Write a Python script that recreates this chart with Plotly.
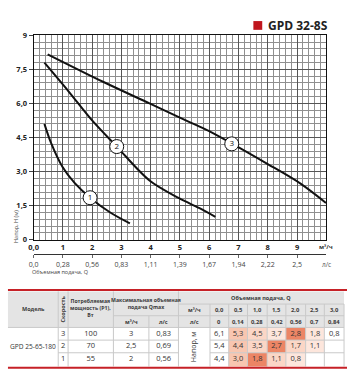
import numpy as np
import plotly.graph_objects as go

# ---- Pump curves (Q in m³/h, H in m) ----
q_speed1 = [0.37, 0.60, 0.99, 1.40, 1.93, 2.62, 3.29]
h_speed1 = [5.10, 4.25, 3.20, 2.50, 1.85, 1.20, 0.72]
q_speed2 = [0.37, 1.20, 2.00, 2.84, 3.96, 4.97, 5.65, 6.21]
h_speed2 = [7.79, 6.52, 5.25, 4.10, 2.61, 1.83, 1.40, 1.01]
q_speed3 = [0.48, 2.39, 3.96, 5.31, 5.98, 8.00, 9.12, 9.99]
h_speed3 = [8.16, 6.94, 6.00, 5.19, 4.79, 3.33, 2.47, 1.62]
curve_names = ["1", "2", "3"]
curve_label_q = [1.93, 2.84, 6.77]

x_ticks = [0, 1, 2, 3, 4, 5, 6, 7, 8, 9]
x_ticklabels_m3h = ["0,0", "1", "2", "3", "4", "5", "6", "7", "8", "9"]
x_ticklabels_ls = ["0,0", "0,28", "0,56", "0,83", "1,11", "1,39", "1,67", "1,94", "2,22", "2,5"]
y_ticks = [0, 1.5, 3.0, 4.5, 6.0, 7.5, 9]
y_ticklabels = ["0", "1,5", "3,0", "4,5", "6,0", "7,5", "9"]

# ---- Table ----
model_name = "GPD 25-65-180"
speeds = [3, 2, 1]
power_w = [100, 70, 55]
qmax_m3h = [3, 2.5, 2]
qmax_ls = [0.83, 0.69, 0.56]
flow_m3h = [0.0, 0.5, 1.0, 1.5, 2.0, 2.5, 3.0]
flow_ls = [0, 0.14, 0.28, 0.42, 0.56, 0.7, 0.84]
head_speed3 = [6.1, 5.3, 4.5, 3.7, 2.8, 1.8, 0.8]
head_speed2 = [5.4, 4.4, 3.5, 2.7, 1.7, 1.1, None]
head_speed1 = [4.4, 3.0, 1.8, 1.1, 0.8, None, None]

# cell shading levels (0 = none ... 4 = strongest)
shade_speed3 = [0, 3, 2, 1, 4, 1, 0]
shade_speed2 = [0, 3, 2, 4, 2, 1, 0]
shade_speed1 = [0, 3, 4, 2, 1, 0, 0]
shade_palette = ["#ffffff", "#fde6dc", "#fbd6c6", "#f8c6b0", "#ec8565"]

W, H = 347, 387
FONT = "Open Sans"


def fmt(v):
    return "" if v is None else str(v).replace(".", ",")


def pxx(x):
    return x / W


def pxy(y):
    return 1 - y / H


fig = go.Figure()

# curves
curves = [(q_speed1, h_speed1), (q_speed2, h_speed2), (q_speed3, h_speed3)]
for q, h in curves:
    fig.add_trace(go.Scatter(
        x=q, y=h, mode="lines",
        line=dict(color="#111111", width=2, shape="spline", smoothing=0.9),
        hoverinfo="skip", showlegend=False,
    ))

label_h = [float(np.interp(lq, q, h)) for lq, (q, h) in zip(curve_label_q, curves)]
fig.add_trace(go.Scatter(
    x=curve_label_q, y=label_h, mode="markers+text", text=curve_names,
    textposition="middle center",
    textfont=dict(family=FONT, size=8, color="#111111"),
    marker=dict(size=14, color="white", line=dict(color="#111111", width=1)),
    hoverinfo="skip", showlegend=False,
))

# carrier for the l/s axis
fig.add_trace(go.Scatter(x=[0, 10], y=[None, None], xaxis="x2", yaxis="y",
                         mode="lines", hoverinfo="skip", showlegend=False))

# ---- table geometry (table axis units = pixels) ----
X0, X1 = 3, 344
col_model = (X0, 54)
col_speed = (54, 64)
col_power = (64, 110)
col_qm = (110, 146)
col_ql = (146, 176)
col_head = (176, 208)
flow_edges = [208, 227, 246, 266, 285, 305, 324, 344]
HDR_TOP, HDR_A, HDR_B, HDR_BOT = 294, 307, 319, 331
row_edges = [331, 344, 357, 371]

shapes = []
GRID = "#c9c9c9"


def rect(x0, x1, y0, y1, fill, line=GRID, width=1):
    shapes.append(dict(type="rect", xref="x3", yref="y3", x0=x0, x1=x1, y0=y0, y1=y1,
                       fillcolor=fill, line=dict(color=line, width=width), layer="below"))


def hline(x0, x1, y, color=GRID, width=1):
    shapes.append(dict(type="line", xref="x3", yref="y3", x0=x0, x1=x1, y0=y, y1=y,
                       line=dict(color=color, width=width)))


def vline(x, y0, y1, color=GRID, width=1):
    shapes.append(dict(type="line", xref="x3", yref="y3", x0=x, x1=x, y0=y0, y1=y1,
                       line=dict(color=color, width=width)))


# header background
rect(X0, X1, HDR_TOP, HDR_BOT, "#e4e4e4", line="rgba(0,0,0,0)", width=0)
# shaded head cells
for r, shades in enumerate([shade_speed3, shade_speed2, shade_speed1]):
    for c, s in enumerate(shades):
        if s:
            rect(flow_edges[c], flow_edges[c + 1], row_edges[r], row_edges[r + 1],
                 shade_palette[s], line="rgba(0,0,0,0)", width=0)

# header grid lines
for x in [col_speed[0], col_power[0], col_qm[0], col_head[0]]:
    vline(x, HDR_TOP, row_edges[-1])
vline(col_ql[0], HDR_B, row_edges[-1])
hline(col_qm[0], col_ql[1], HDR_B)
hline(col_head[0], X1, HDR_A)
hline(col_head[0], X1, HDR_B)
for x in flow_edges:
    vline(x, HDR_A, row_edges[-1])
hline(X0, X1, HDR_BOT)
for y in row_edges[1:-1]:
    hline(col_speed[0], col_head[0], y)
    hline(flow_edges[0], X1, y)

# red rules
hline(X0, W, 292.5, color="#c62127", width=2)
hline(X0, W, 372.5, color="#c62127", width=2)

# title swatch
shapes.append(dict(type="rect", xref="paper", yref="paper",
                   x0=pxx(252), x1=pxx(261), y0=pxy(25.5), y1=pxy(16.5),
                   fillcolor="#c0161e", line=dict(width=0)))

annotations = []


def tab_text(x, y, text, size=8, bold=False, color="#333333", angle=0):
    annotations.append(dict(xref="x3", yref="y3", x=x, y=y, text=text, showarrow=False,
                            textangle=angle, xanchor="center", yanchor="middle",
                            font=dict(family=FONT, size=size, color=color,
                                      weight="bold" if bold else "normal")))


def mid(a):
    return (a[0] + a[1]) / 2


HC = "#3a3a3a"
tab_text(mid(col_model), mid((HDR_TOP, HDR_BOT)), "Модель", 5.5, True, HC)
tab_text(mid(col_speed), mid((HDR_TOP, HDR_BOT)), "Скорость", 5.5, True, HC, -90)
tab_text(mid(col_power), mid((HDR_TOP, HDR_BOT)) - 1,
         "Потребляемая<br>мощность (P1),<br>Вт", 5.2, True, HC)
tab_text(mid((col_qm[0], col_ql[1])), mid((HDR_TOP, HDR_B)),
         "Максимальная объемная<br>подача Qmax", 5.2, True, HC)
tab_text(mid(col_qm), mid((HDR_B, HDR_BOT)), "м³/ч", 5.5, True, HC)
tab_text(mid(col_ql), mid((HDR_B, HDR_BOT)), "л/с", 5.5, True, HC)
tab_text(mid((col_head[0], X1)), mid((HDR_TOP, HDR_A)), "Объемная подача, Q", 5.5, True, HC)
tab_text(mid(col_head), mid((HDR_A, HDR_B)), "м³/ч", 5.5, True, HC)
tab_text(mid(col_head), mid((HDR_B, HDR_BOT)), "л/с", 5.5, True, HC)
for c in range(len(flow_m3h)):
    xc = (flow_edges[c] + flow_edges[c + 1]) / 2
    tab_text(xc, mid((HDR_A, HDR_B)), fmt(flow_m3h[c]), 5.8, True, HC)
    tab_text(xc, mid((HDR_B, HDR_BOT)), fmt(flow_ls[c]), 5.8, True, HC)

tab_text(mid(col_model), mid((row_edges[0], row_edges[-1])), model_name, 6.6)
tab_text(mid(col_head), mid((row_edges[0], row_edges[-1])), "Напор, м", 7, False, "#333333", -90)

# data cells
cell_x, cell_y, cell_t = [], [], []
for r in range(3):
    yc = (row_edges[r] + row_edges[r + 1]) / 2
    for col, val in [(col_speed, speeds[r]), (col_power, power_w[r]),
                     (col_qm, qmax_m3h[r]), (col_ql, qmax_ls[r])]:
        cell_x.append(mid(col)); cell_y.append(yc); cell_t.append(fmt(val))
    for c, v in enumerate([head_speed3, head_speed2, head_speed1][r]):
        cell_x.append((flow_edges[c] + flow_edges[c + 1]) / 2)
        cell_y.append(yc)
        cell_t.append(fmt(v))

fig.add_trace(go.Scatter(x=cell_x, y=cell_y, text=cell_t, mode="text",
                         textfont=dict(family=FONT, size=7.5, color="#333333"),
                         xaxis="x3", yaxis="y3", hoverinfo="skip", showlegend=False))

# ---- chart annotations ----
annotations += [
    dict(xref="paper", yref="paper", x=pxx(265), y=pxy(21), xanchor="left", yanchor="middle",
         text="GPD 32-8S", showarrow=False,
         font=dict(family=FONT, size=12, color="#222222", weight="bold")),
    dict(xref="paper", yref="paper", x=pxx(11), y=pxy(227), text="Напор, Н (м)",
         textangle=-90, showarrow=False, xanchor="center", yanchor="middle",
         font=dict(family=FONT, size=5.5, color="#444444")),
    dict(xref="x", yref="paper", x=10, y=pxy(248), text="м³/ч", showarrow=False,
         xanchor="center", yanchor="middle",
         font=dict(family=FONT, size=6, color="#333333", weight="bold")),
    dict(xref="x", yref="paper", x=10, y=pxy(266), text="л/с", showarrow=False,
         xanchor="center", yanchor="middle",
         font=dict(family=FONT, size=6.5, color="#555555")),
    dict(xref="paper", yref="paper", x=pxx(25), y=pxy(274), text="Объемная подача, Q",
         showarrow=False, xanchor="left", yanchor="middle",
         font=dict(family=FONT, size=5.5, color="#444444")),
]

fig.update_layout(
    width=W, height=H, margin=dict(l=0, r=0, t=0, b=0),
    paper_bgcolor="white", plot_bgcolor="white",
    showlegend=False,
    shapes=shapes, annotations=annotations,
    xaxis=dict(
        domain=[pxx(29), pxx(326)], range=[0, 10], anchor="y",
        tickvals=x_ticks, ticktext=x_ticklabels_m3h, ticks="", ticklen=2,
        tickfont=dict(family=FONT, size=7.5, color="#222222", weight="bold"),
        showgrid=True, gridcolor="#555555", gridwidth=1,
        minor=dict(dtick=0.2, tick0=0, showgrid=True, gridcolor="#8f8f8f", gridwidth=0.6),
        showline=True, linecolor="#111111", linewidth=1, mirror=True, zeroline=False,
    ),
    yaxis=dict(
        domain=[pxy(241), pxy(31)], range=[0, 9], anchor="x",
        tickvals=y_ticks, ticktext=y_ticklabels, ticks="outside", ticklen=4,
        tickcolor="#444444",
        tickfont=dict(family=FONT, size=7.5, color="#222222", weight="bold"),
        showgrid=True, gridcolor="#555555", gridwidth=1,
        minor=dict(dtick=0.3, tick0=0, showgrid=True, gridcolor="#8f8f8f", gridwidth=0.6),
        showline=True, linecolor="#111111", linewidth=1, mirror=True, zeroline=False,
    ),
    xaxis2=dict(
        overlaying="x", anchor="free", position=pxy(256), side="bottom",
        range=[0, 10], tickvals=x_ticks, ticktext=x_ticklabels_ls,
        ticks="outside", ticklen=3, tickcolor="#666666",
        tickfont=dict(family=FONT, size=7, color="#444444"),
        showgrid=False, showline=True, linecolor="#333333", linewidth=1, zeroline=False,
    ),
    xaxis3=dict(domain=[0, 1], range=[0, W], anchor="y3", visible=False, fixedrange=True),
    yaxis3=dict(domain=[pxy(376), pxy(289)], range=[376, 289], anchor="x3",
                visible=False, fixedrange=True),
)

fig.write_html("out.html")
